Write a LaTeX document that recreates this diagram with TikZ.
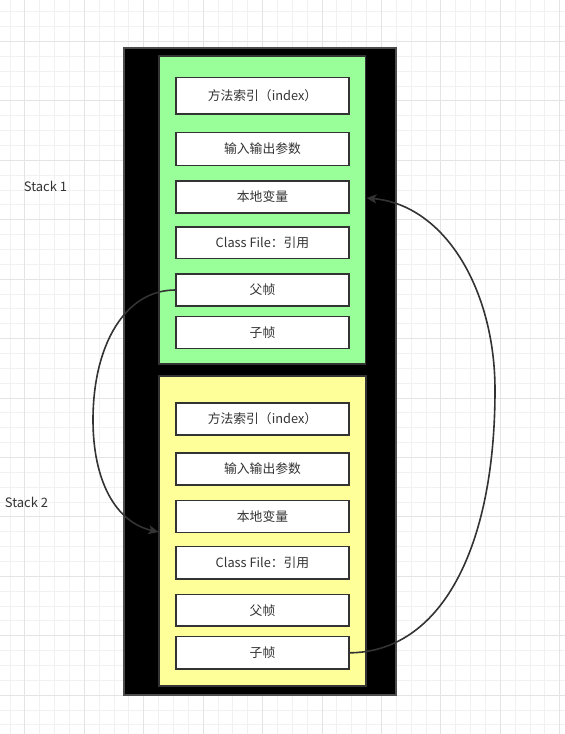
\documentclass[tikz,border=0pt]{standalone}
\usepackage{fontspec}
\setmainfont{Noto Sans CJK SC}
\usetikzlibrary{arrows.meta}
\definecolor{gridminor}{HTML}{F1F1F1}
\definecolor{gridmajor}{HTML}{E4E4E4}
\definecolor{txt}{HTML}{333333}
\definecolor{edge}{HTML}{333333}
\definecolor{greenfill}{HTML}{99FF99}
\definecolor{yellowfill}{HTML}{FFFF99}
\tikzset{
  frame/.style={draw=edge, line width=1.5pt, inner sep=0pt},
  cell/.style={frame, fill=white, minimum width=173pt, text=txt, font=\fontsize{12.8pt}{15pt}\selectfont},
  lbl/.style={text=txt, inner sep=0pt, font=\fontsize{13pt}{15pt}\selectfont},
  link/.style={draw=edge, line width=1.6pt, -{Stealth[length=10pt,width=9pt,inset=2.5pt]}}
}
\begin{document}
\begin{tikzpicture}[x=1pt,y=-1pt]
\useasboundingbox (0,0) rectangle (565,734);
\fill[white] (0,0) rectangle (565,734);
% grid
\foreach \k in {0,...,37} \draw[gridminor, line width=1pt] ({10+14.86*\k},0) -- ({10+14.86*\k},734);
\foreach \k in {0,...,48} \draw[gridminor, line width=1pt] (0,{11.7+14.86*\k}) -- (565,{11.7+14.86*\k});
\foreach \j in {0,...,9} \draw[gridmajor, line width=1pt] ({24.86+59.44*\j},0) -- ({24.86+59.44*\j},734);
\foreach \j in {0,...,11} \draw[gridmajor, line width=1pt] (0,{41.42+59.44*\j}) -- (565,{41.42+59.44*\j});

% containers
\node[frame, draw=black!70, fill=black, minimum width=272pt, minimum height=647pt] (outer) at (260,371.5) {};
\node[frame, fill=greenfill, minimum width=206.5pt, minimum height=308pt] (green) at (262.25,210) {};
\node[frame, fill=yellowfill, minimum width=207pt, minimum height=310pt] (yellow) at (262.5,531) {};

% Stack 1 cells
\node[cell, minimum height=36.5pt] (g1) at (262.5,95.75) {方法索引（index）};
\node[cell, minimum height=33pt] (g2) at (262.5,149) {输入输出参数};
\node[cell, minimum height=32.3pt] (g3) at (262.5,197) {本地变量};
\node[cell, minimum height=31.5pt] (g4) at (262.5,242.75) {Class File：引用};
\node[cell, minimum height=32pt] (g5) at (262.5,290) {父帧};
\node[cell, minimum height=31.6pt] (g6) at (262.5,332.5) {子帧};

% Stack 2 cells
\node[cell, minimum height=32pt] (y1) at (262.5,419) {方法索引（index）};
\node[cell, minimum height=32pt] (y2) at (262.5,469) {输入输出参数};
\node[cell, minimum height=32pt] (y3) at (262.5,516.7) {本地变量};
\node[cell, minimum height=32.3pt] (y4) at (262.5,562.8) {Class File：引用};
\node[cell, minimum height=31.3pt] (y5) at (262.5,610.3) {父帧};
\node[cell, minimum height=32.3pt] (y6) at (262.5,652.8) {子帧};

% labels
\node[lbl] (s1) at (45.5,186) {Stack 1};
\node[lbl] (s2) at (26.5,502.7) {Stack 2};

% connector endpoints
\coordinate (inL) at (158.5,532);
\coordinate (inR) at (366.5,198);

% connectors
\draw[link] (g5.west) .. controls (125,290) and (93,345) .. (93,420)
  .. controls (93,480) and (115,522) .. (inL);
\draw[link] (y6.east) .. controls (440,652) and (495,550) .. (495,390)
  .. controls (495,290) and (445,205) .. (inR);
\end{tikzpicture}
\end{document}
